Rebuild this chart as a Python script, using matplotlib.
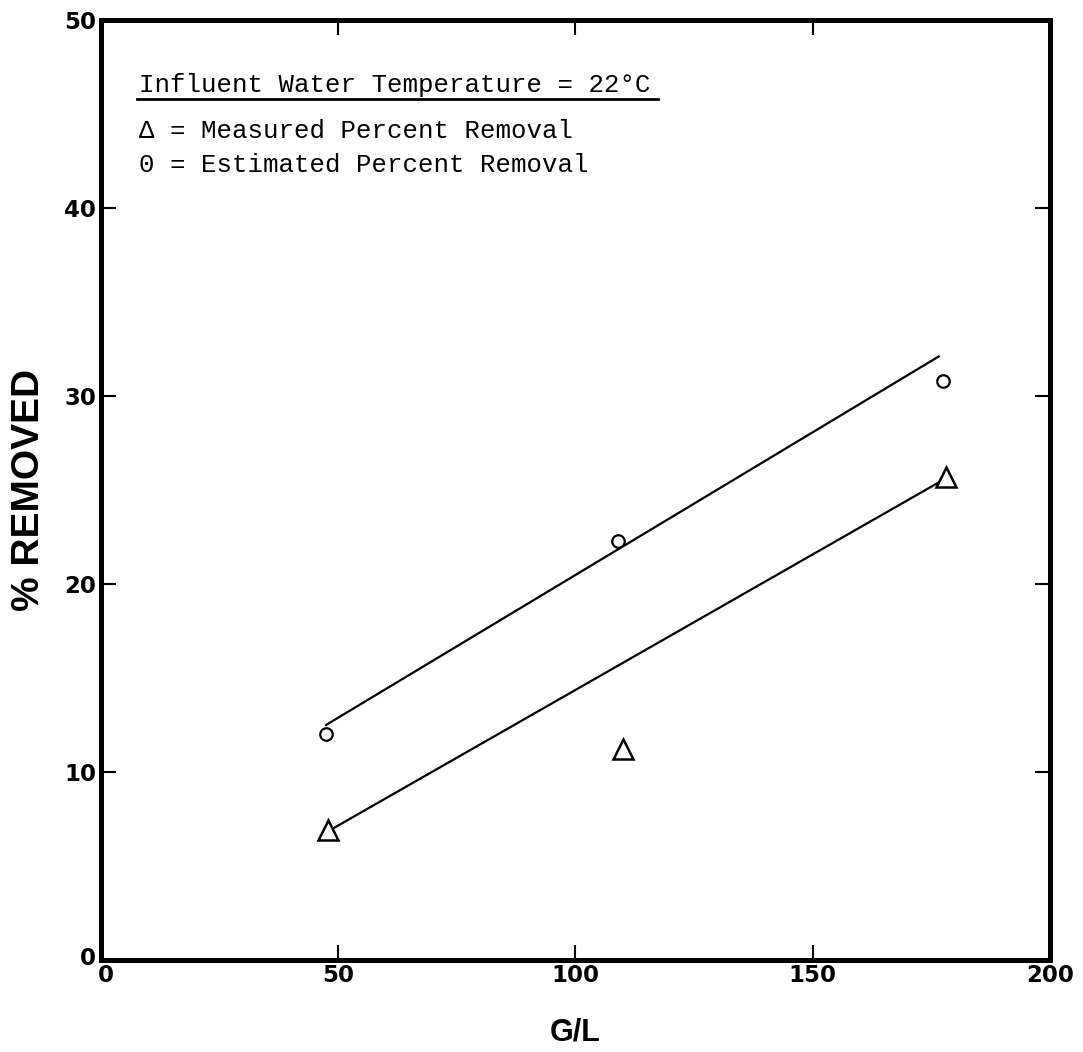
import matplotlib
matplotlib.use("Agg")
import matplotlib.pyplot as plt
import matplotlib.transforms as mtransforms
from matplotlib.lines import Line2D

# measured and estimated percent removal vs G/L
gl_measured = [48.0, 110.0, 178.0]
pct_measured = [6.9, 11.2, 25.7]
gl_estimated = [47.5, 109.0, 177.5]
pct_estimated = [12.0, 22.3, 30.8]

# fitted lines (end points)
fit_measured_x = [49.0, 176.5]
fit_measured_y = [7.0, 25.4]
fit_estimated_x = [47.5, 176.5]
fit_estimated_y = [12.5, 32.1]

xticks = [0, 50, 100, 150, 200]
yticks = [0, 10, 20, 30, 40, 50]

fig = plt.figure(figsize=(10.83, 10.52), dpi=100)
ax = fig.add_axes([0.0928, 0.0875, 0.877, 0.8935])

ax.plot(fit_estimated_x, fit_estimated_y, color="black", lw=1.6)
ax.plot(fit_measured_x, fit_measured_y, color="black", lw=1.6)
ax.plot(gl_estimated, pct_estimated, "o", mfc="white", mec="black",
        ms=9, mew=1.6, ls="none")
ax.plot(gl_measured, pct_measured, "^", mfc="white", mec="black",
        ms=14, mew=1.8, ls="none")

ax.set_xlim(0, 200)
ax.set_ylim(0, 50)
ax.set_xticks(xticks)
ax.set_yticks(yticks)
for sp in ax.spines.values():
    sp.set_linewidth(3.6)

ax.tick_params(direction="in", length=11, width=1.5, top=True, right=True,
               pad=3, labelsize=16.5)
for lab in ax.get_xticklabels() + ax.get_yticklabels():
    lab.set_fontweight("bold")
    lab.set_family("DejaVu Sans")

# nudge the two zero labels apart like the original
xl0 = ax.get_xticklabels()[0]
xl0.set_transform(xl0.get_transform() +
                  mtransforms.ScaledTranslation(5 / 100, 0, fig.dpi_scale_trans))
yl0 = ax.get_yticklabels()[0]
yl0.set_transform(yl0.get_transform() +
                  mtransforms.ScaledTranslation(0, 4 / 100, fig.dpi_scale_trans))

ax.set_xlabel("G/L", fontsize=22, fontweight="bold", family="Liberation Sans")
ax.xaxis.set_label_coords(0.5, -0.077)
ax.xaxis.label.set_va("center")
ax.set_ylabel("% REMOVED", fontsize=28, fontweight="bold",
              family="Liberation Sans")
ax.yaxis.set_label_coords(-0.075, 0.5)
ax.yaxis.label.set_va("center")

mono = "Liberation Mono"
ax.text(0.041, 0.923, "Influent Water Temperature = 22°C", transform=ax.transAxes,
        fontsize=18.5, family=mono, va="baseline", ha="left")
ax.add_line(Line2D([0.038, 0.587], [0.916, 0.916], transform=ax.transAxes,
                   color="black", lw=2))
ax.text(0.041, 0.874, "Δ = Measured Percent Removal", transform=ax.transAxes,
        fontsize=18.5, family=mono, va="baseline", ha="left")
ax.text(0.041, 0.838, "0 = Estimated Percent Removal", transform=ax.transAxes,
        fontsize=18.5, family=mono, va="baseline", ha="left")

fig.savefig("out.png", dpi=100)
